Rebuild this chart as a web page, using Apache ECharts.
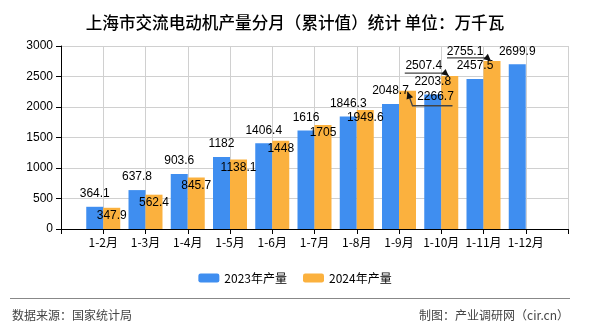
<!DOCTYPE html>
<html>
<head>
<meta charset="utf-8">
<script src="https://cdn.jsdelivr.net/npm/echarts@6/dist/echarts.min.js"></script>
<style>
html,body{margin:0;padding:0;background:#fff;}
#main{width:590px;height:330px;}
</style>
</head>
<body>
<div id="main"></div>
<script>
var months = ['1-2月','1-3月','1-4月','1-5月','1-6月','1-7月','1-8月','1-9月','1-10月','1-11月','1-12月'];
var values2023 = [364.1, 637.8, 903.6, 1182, 1406.4, 1616, 1846.3, 2048.7, 2203.8, 2457.5, 2699.9];
var values2024 = [347.9, 562.4, 845.7, 1138.1, 1448, 1705, 1949.6, 2266.7, 2507.4, 2755.1, null];
var seriesNames = ['2023年产量', '2024年产量'];
var yTicks = [0, 500, 1000, 1500, 2000, 2500, 3000];

// label nudges for crowded labels (by month) and guide-line style
var labelShift = {'1-9月': [28, -2], '1-10月': [-26, -18], '1-11月': [-27, -17]};
var guideType = {'1-9月': 'below', '1-10月': 'left', '1-11月': 'left'};

var cats = [''].concat(months, ['']);
function pad(arr){ return [null].concat(arr, [null]); }

var BAR_W = 17;
var chart = echarts.init(document.getElementById('main'));
var labelFont = 'Liberation Sans, DejaVu Sans, sans-serif';
var option = {
  animation: false,
  title: {
    text: '上海市交流电动机产量分月（累计值）统计 单位：万千瓦',
    left: 'center', top: 9,
    textStyle: {fontSize: 16.6, fontWeight: 500, color: '#000', fontFamily: 'Noto Sans CJK SC'}
  },
  legend: {
    data: seriesNames,
    left: 'center', top: 267,
    itemWidth: 21, itemHeight: 9, itemGap: 16,
    textStyle: {fontSize: 12, color: '#000', fontFamily: 'Noto Sans CJK SC'}
  },
  grid: {left: 61, right: 22, top: 46, bottom: 101, containLabel: false},
  xAxis: {
    type: 'category', data: cats, boundaryGap: false,
    axisLine: {lineStyle: {color: '#000'}},
    axisTick: {show: true, length: 5, lineStyle: {color: '#000'}},
    axisLabel: {interval: 0, color: '#000', fontSize: 12, margin: 7, fontFamily: 'Noto Sans CJK SC'},
    splitLine: {show: true, lineStyle: {color: '#d0d0d0'}}
  },
  yAxis: {
    type: 'value', min: yTicks[0], max: yTicks[yTicks.length-1], interval: yTicks[1]-yTicks[0],
    axisLine: {show: true, lineStyle: {color: '#000'}},
    axisTick: {show: true, length: 5, lineStyle: {color: '#000'}},
    axisLabel: {color: '#000', fontSize: 12, margin: 8, fontFamily: labelFont, formatter: function (v) { return String(v); }},
    splitLine: {show: true, lineStyle: {color: '#d0d0d0'}}
  },
  series: [
    {
      name: seriesNames[0], type: 'bar', data: pad(values2023),
      barWidth: BAR_W, barGap: '0%',
      itemStyle: {color: '#3f8ef0'},
      label: {show: true, position: 'top', distance: 7, color: '#000', fontSize: 12, fontFamily: labelFont}
    },
    {
      name: seriesNames[1], type: 'bar', data: pad(values2024),
      barWidth: BAR_W, barGap: '0%',
      itemStyle: {color: '#fbb13e'},
      label: {show: true, position: 'insideTop', distance: 2, color: '#000', fontSize: 12, fontFamily: labelFont},
      labelLayout: function (p) {
        var s = labelShift[cats[p.dataIndex]];
        if (s) return {dx: s[0], dy: s[1]};
        return {};
      }
    }
  ]
};
chart.setOption(option);

// guide lines with arrowheads, positioned via the chart's own scales
function arrowHead(tip, from, len, half) {
  var dx = tip[0] - from[0], dy = tip[1] - from[1];
  var d = Math.sqrt(dx*dx + dy*dy) || 1;
  var ux = dx / d, uy = dy / d;
  var bx = tip[0] - ux*len, by = tip[1] - uy*len;
  return [tip, [bx - uy*half, by + ux*half], [bx + uy*half, by - ux*half]];
}
var graphics = [
  {type: 'line', shape: {x1: 10, y1: 298.5, x2: 570, y2: 298.5}, style: {stroke: '#888', lineWidth: 1}},
  {type: 'text', left: 12, top: 309, style: {text: '数据来源：国家统计局', fontSize: 12, fill: '#444', fontFamily: 'Noto Sans CJK SC'}},
  {type: 'text', right: 21, top: 309, style: {text: '制图：产业调研网（cir.cn）', fontSize: 12, fill: '#444', fontFamily: 'Noto Sans CJK SC'}}
];
months.forEach(function (m, i) {
  var g = guideType[m];
  if (!g || values2024[i] == null) return;
  var p = chart.convertToPixel({seriesIndex: 1}, [i + 1, values2024[i]]);
  var cx = p[0] + BAR_W / 2, ty = p[1];
  var pts, tip, from;
  if (g === 'below') {
    tip = [cx, ty + 1];
    pts = [[cx + 45, ty + 15], [cx + 5, ty + 15], tip];
    from = pts[1];
  } else {
    tip = [cx - 1, ty];
    pts = [[cx - 45, ty - 3], [cx - 5, ty - 3], tip];
    from = [cx - 7, ty - 5];
  }
  graphics.push({type: 'polyline', shape: {points: pts}, style: {stroke: '#444', lineWidth: 1.3, fill: null}, z: 10});
  graphics.push({type: 'polygon', shape: {points: arrowHead(tip, from, 7, 3.5)}, style: {fill: '#111'}, z: 11});
});
chart.setOption({graphic: graphics});
</script>
</body>
</html>
